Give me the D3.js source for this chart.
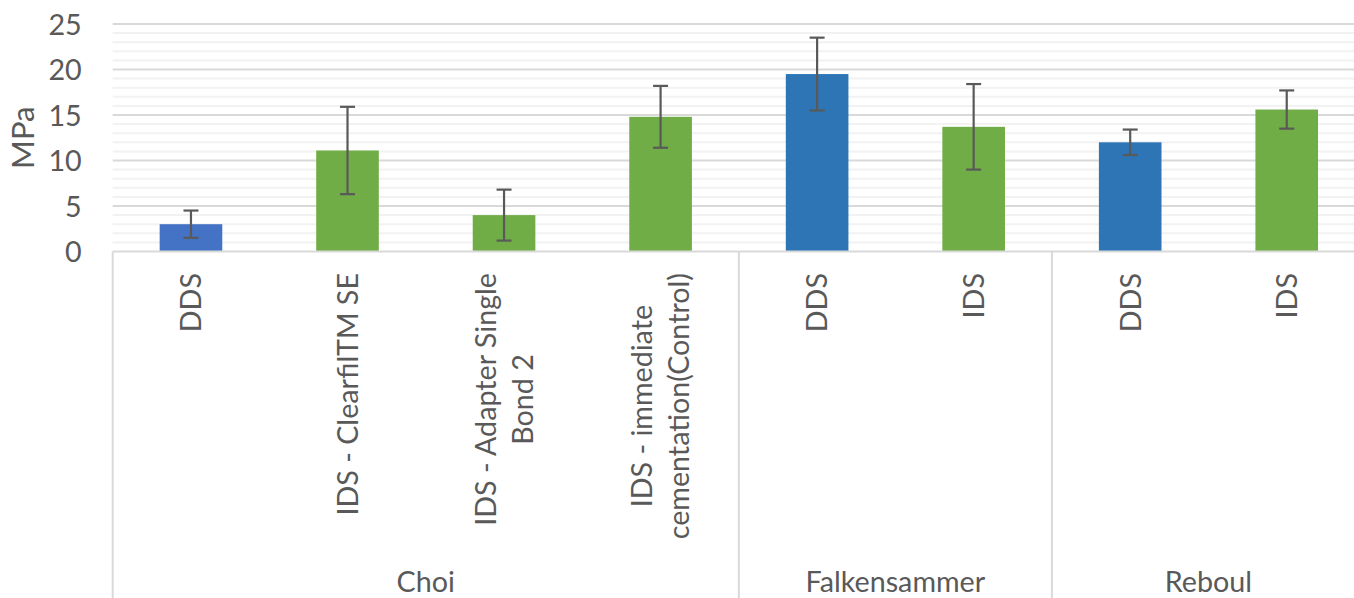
<!DOCTYPE html>
<html>
<head>
<meta charset="utf-8">
<script src="https://cdn.jsdelivr.net/npm/d3@7"></script>
<style>
  html, body { margin: 0; padding: 0; background: #fff; overflow: hidden; }
  svg { display: block; }
  text { font-family: Lato, "Open Sans", sans-serif; fill: #595959; }
</style>
</head>
<body>
<svg id="chart" width="1354" height="598"></svg>
<script>
// ---- data ----
const groups = ["Choi", "Falkensammer", "Reboul"];
const groupOf = ["Choi", "Choi", "Choi", "Choi", "Falkensammer", "Falkensammer", "Reboul", "Reboul"];
const categoryLines = [
  ["DDS"],
  ["IDS - ClearfilTM SE"],
  ["IDS - Adapter Single", "Bond 2"],
  ["IDS - immediate", "cementation(Control)"],
  ["DDS"],
  ["IDS"],
  ["DDS"],
  ["IDS"]
];
const barType = ["DDS-Choi", "IDS", "IDS", "IDS", "DDS", "IDS", "DDS", "IDS"];
const values = [3.0, 11.1, 4.0, 14.8, 19.5, 13.7, 12.0, 15.6];
const errors = [1.5, 4.8, 2.8, 3.4, 4.0, 4.7, 1.4, 2.1];
const yTicks = [0, 5, 10, 15, 20, 25];
const yLabel = "MPa";

// ---- layout ----
const W = 1354, H = 598;
const mLeft = 112.7, mRight = 1365, mTop = 24, mBottom = 251.5;
const FS = "28.7px";
const svg = d3.select("#chart");

const idx = d3.range(values.length);
const x = d3.scaleBand().domain(idx).range([mLeft, mRight]).paddingInner(0.6).paddingOuter(0.3);
const y = d3.scaleLinear().domain([0, 25]).range([mBottom, mTop]);
const color = d3.scaleOrdinal().domain(["DDS-Choi", "DDS", "IDS"]).range(["#4472C4", "#2E75B6", "#70AD47"]);

const step = x.step();
const gap = (step - x.bandwidth()) / 2;
const boundary = i => x(i) - gap;

// minor gridlines
const minor = d3.range(0, 26, 1).filter(v => v % 5 !== 0);
svg.append("g").selectAll("line").data(minor).join("line")
  .attr("x1", mLeft).attr("x2", W)
  .attr("y1", d => y(d)).attr("y2", d => y(d))
  .attr("stroke", "#f2f2f2").attr("stroke-width", 2);

// major gridlines
svg.append("g").selectAll("line").data(yTicks.filter(v => v > 0)).join("line")
  .attr("x1", mLeft).attr("x2", W)
  .attr("y1", d => y(d)).attr("y2", d => y(d))
  .attr("stroke", "#d9d9d9").attr("stroke-width", 2);

// y axis labels
const yAxis = svg.append("g")
  .attr("transform", `translate(${mLeft},0)`)
  .call(d3.axisLeft(y).tickValues(yTicks).tickSize(0).tickPadding(31));
yAxis.select(".domain").remove();
yAxis.selectAll("text")
  .style("font-family", "Lato, 'Open Sans', sans-serif")
  .style("font-size", FS)
  .attr("fill", "#595959")
  .attr("dy", "0.36em");

// y axis title
svg.append("text")
  .attr("transform", `translate(22.5,${(mTop + mBottom) / 2}) rotate(-90)`)
  .attr("text-anchor", "middle")
  .attr("dy", "0.36em")
  .style("font-size", "31px")
  .text(yLabel);

// bars
svg.append("g").selectAll("rect").data(idx).join("rect")
  .attr("x", i => x(i))
  .attr("width", x.bandwidth())
  .attr("y", i => y(values[i]))
  .attr("height", i => y(0) - y(values[i]))
  .attr("fill", i => color(barType[i]));

// error bars
const eb = svg.append("g").attr("stroke", "#595959").attr("stroke-width", 2.2);
idx.forEach(i => {
  const cx = x(i) + x.bandwidth() / 2;
  const hi = y(values[i] + errors[i]), lo = y(values[i] - errors[i]);
  eb.append("line").attr("x1", cx).attr("x2", cx).attr("y1", hi).attr("y2", lo);
  eb.append("line").attr("x1", cx - 7.5).attr("x2", cx + 7.5).attr("y1", hi).attr("y2", hi);
  eb.append("line").attr("x1", cx - 7.5).attr("x2", cx + 7.5).attr("y1", lo).attr("y2", lo);
});

// category axis line
svg.append("line")
  .attr("x1", mLeft).attr("x2", W)
  .attr("y1", mBottom).attr("y2", mBottom)
  .attr("stroke", "#d9d9d9").attr("stroke-width", 2);

// group separators
const groupStarts = groups.map(g => groupOf.indexOf(g));
const sepX = groupStarts.map(boundary).concat([mRight]);
svg.append("g").selectAll("line").data(sepX).join("line")
  .attr("x1", d => d).attr("x2", d => d)
  .attr("y1", mBottom).attr("y2", H)
  .attr("stroke", "#d9d9d9").attr("stroke-width", 2);

// category labels (rotated)
const lh = 37;
idx.forEach(i => {
  const cx = x(i) + x.bandwidth() / 2;
  const g = svg.append("g").attr("transform", `translate(${cx},273) rotate(-90)`);
  const lines = categoryLines[i];
  const n = lines.length;
  const texts = lines.map((t, k) => g.append("text")
    .attr("y", (k - (n - 1) / 2) * lh)
    .attr("dy", "0.36em")
    .attr("text-anchor", "middle")
    .style("font-size", FS)
    .text(t));
  const maxLen = d3.max(texts, t => t.node().getComputedTextLength());
  texts.forEach(t => t.attr("x", -maxLen / 2));
});

// group labels
groups.forEach((g, k) => {
  const cx = (sepX[k] + sepX[k + 1]) / 2;
  svg.append("text")
    .attr("x", cx).attr("y", 592)
    .attr("text-anchor", "middle")
    .style("font-size", FS)
    .text(g);
});
</script>
</body>
</html>
